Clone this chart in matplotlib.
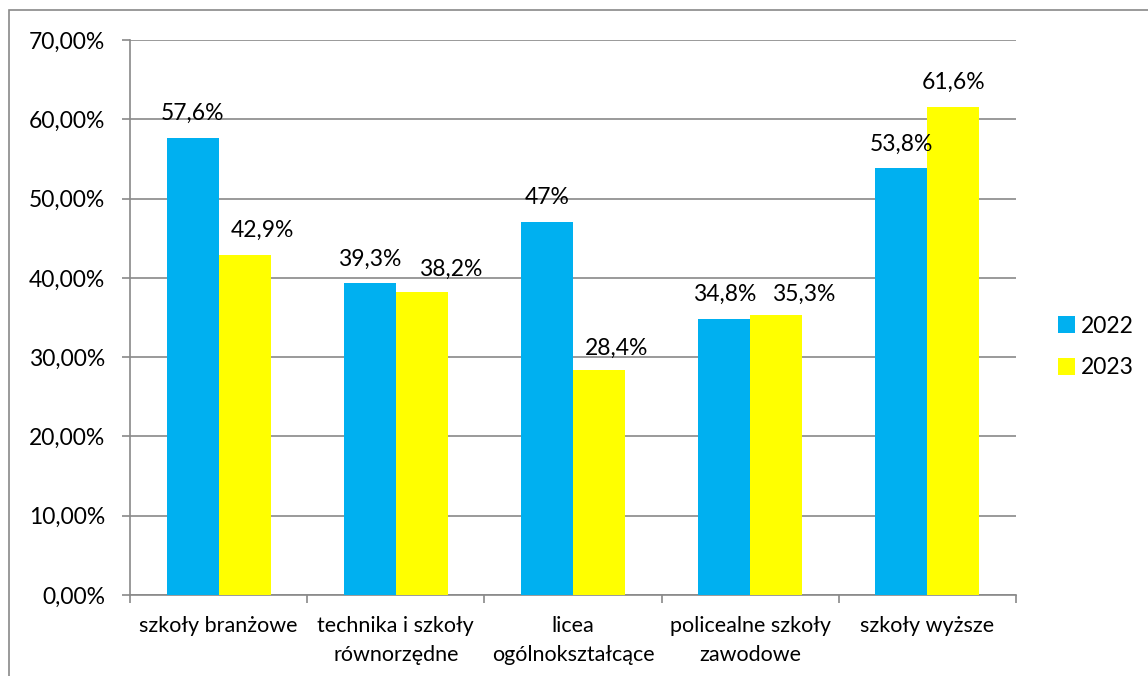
import matplotlib
matplotlib.use("Agg")
import matplotlib.pyplot as plt
from matplotlib.patches import Rectangle
import numpy as np

categories = ["szkoły branżowe", "technika i szkoły\nrównorzędne", "licea\nogólnokształcące",
              "policealne szkoły\nzawodowe", "szkoły wyższe"]
years = ["2022", "2023"]
values_2022 = [57.6, 39.3, 47.0, 34.8, 53.8]
values_2023 = [42.9, 38.2, 28.4, 35.3, 61.6]
labels_2022 = ["57,6%", "39,3%", "47%", "34,8%", "53,8%"]
labels_2023 = ["42,9%", "38,2%", "28,4%", "35,3%", "61,6%"]
yticks = [0, 10, 20, 30, 40, 50, 60, 70]
ytick_labels = ["0,00%", "10,00%", "20,00%", "30,00%", "40,00%", "50,00%", "60,00%", "70,00%"]

# label placement nudges (points), as laid out in the original
dx_2022 = [0, 0, 0, 0, 0]
dx_2023 = [13, 21, 13, 20, 0]
dy_2022 = [13, 13, 13, 13, 13]
dy_2023 = [13, 11.5, 11, 10, 13]

plt.rcParams['font.family'] = ['Lato', 'DejaVu Sans']
GRAY = "#898989"
BLUE = "#00B0F0"
YELLOW = "#FFFF00"
FS = 16.5

fig = plt.figure(figsize=(11.48, 6.76), dpi=100)
fig.patches.append(Rectangle((9/1148, -0.01), 1.2, 1 - 10/676 + 0.01, transform=fig.transFigure,
                             fill=False, edgecolor=GRAY, linewidth=1.2, zorder=0))
ax = fig.add_axes([130/1148, 1 - 595/676, (1016 - 130)/1148, (595 - 40)/676])

x = np.arange(len(categories))
w = 0.293
b1 = ax.bar(x - w/2, values_2022, w, color=BLUE, label=years[0], zorder=3)
b2 = ax.bar(x + w/2, values_2023, w, color=YELLOW, label=years[1], zorder=3)

for xs, vals, labs, dxs, dys in ((x - w/2, values_2022, labels_2022, dx_2022, dy_2022),
                                  (x + w/2, values_2023, labels_2023, dx_2023, dy_2023)):
    for xi, v, lab, dx, dy in zip(xs, vals, labs, dxs, dys):
        ax.annotate(lab, (xi, v), xytext=(dx, dy), textcoords="offset points", ha="center",
                    va="baseline", fontsize=FS, zorder=5)

ax.set_xlim(-0.5, len(categories) - 0.5)
ax.set_ylim(0, 70)
ax.set_yticks(yticks)
ax.set_yticklabels(ytick_labels, fontsize=FS)
ax.yaxis.grid(True, color=GRAY, linewidth=1.2, zorder=0)
ax.set_axisbelow(True)

ax.set_xticks(x)
ax.set_xticklabels(categories, fontsize=15.5, linespacing=1.55)
ax.set_xticks(np.arange(len(categories) + 1) - 0.5, minor=True)
ax.tick_params(axis="x", which="major", length=0, pad=15)
ax.tick_params(axis="x", which="minor", length=6, color=GRAY, width=1.2, direction="out")
ax.tick_params(axis="y", length=6, color=GRAY, width=1.2, pad=12)

for s in ["top", "right"]:
    ax.spines[s].set_visible(False)
for s in ["left", "bottom"]:
    ax.spines[s].set_color(GRAY)
    ax.spines[s].set_linewidth(1.2)

fig.legend(handles=[b1, b2], labels=years, loc="center left",
           bbox_to_anchor=(1058/1148, 1 - 347/676), frameon=False, fontsize=FS,
           borderpad=0, borderaxespad=0,
           handlelength=0.74, handleheight=0.74, handletextpad=0.25, labelspacing=0.9)

fig.savefig("out.png", dpi=100)
